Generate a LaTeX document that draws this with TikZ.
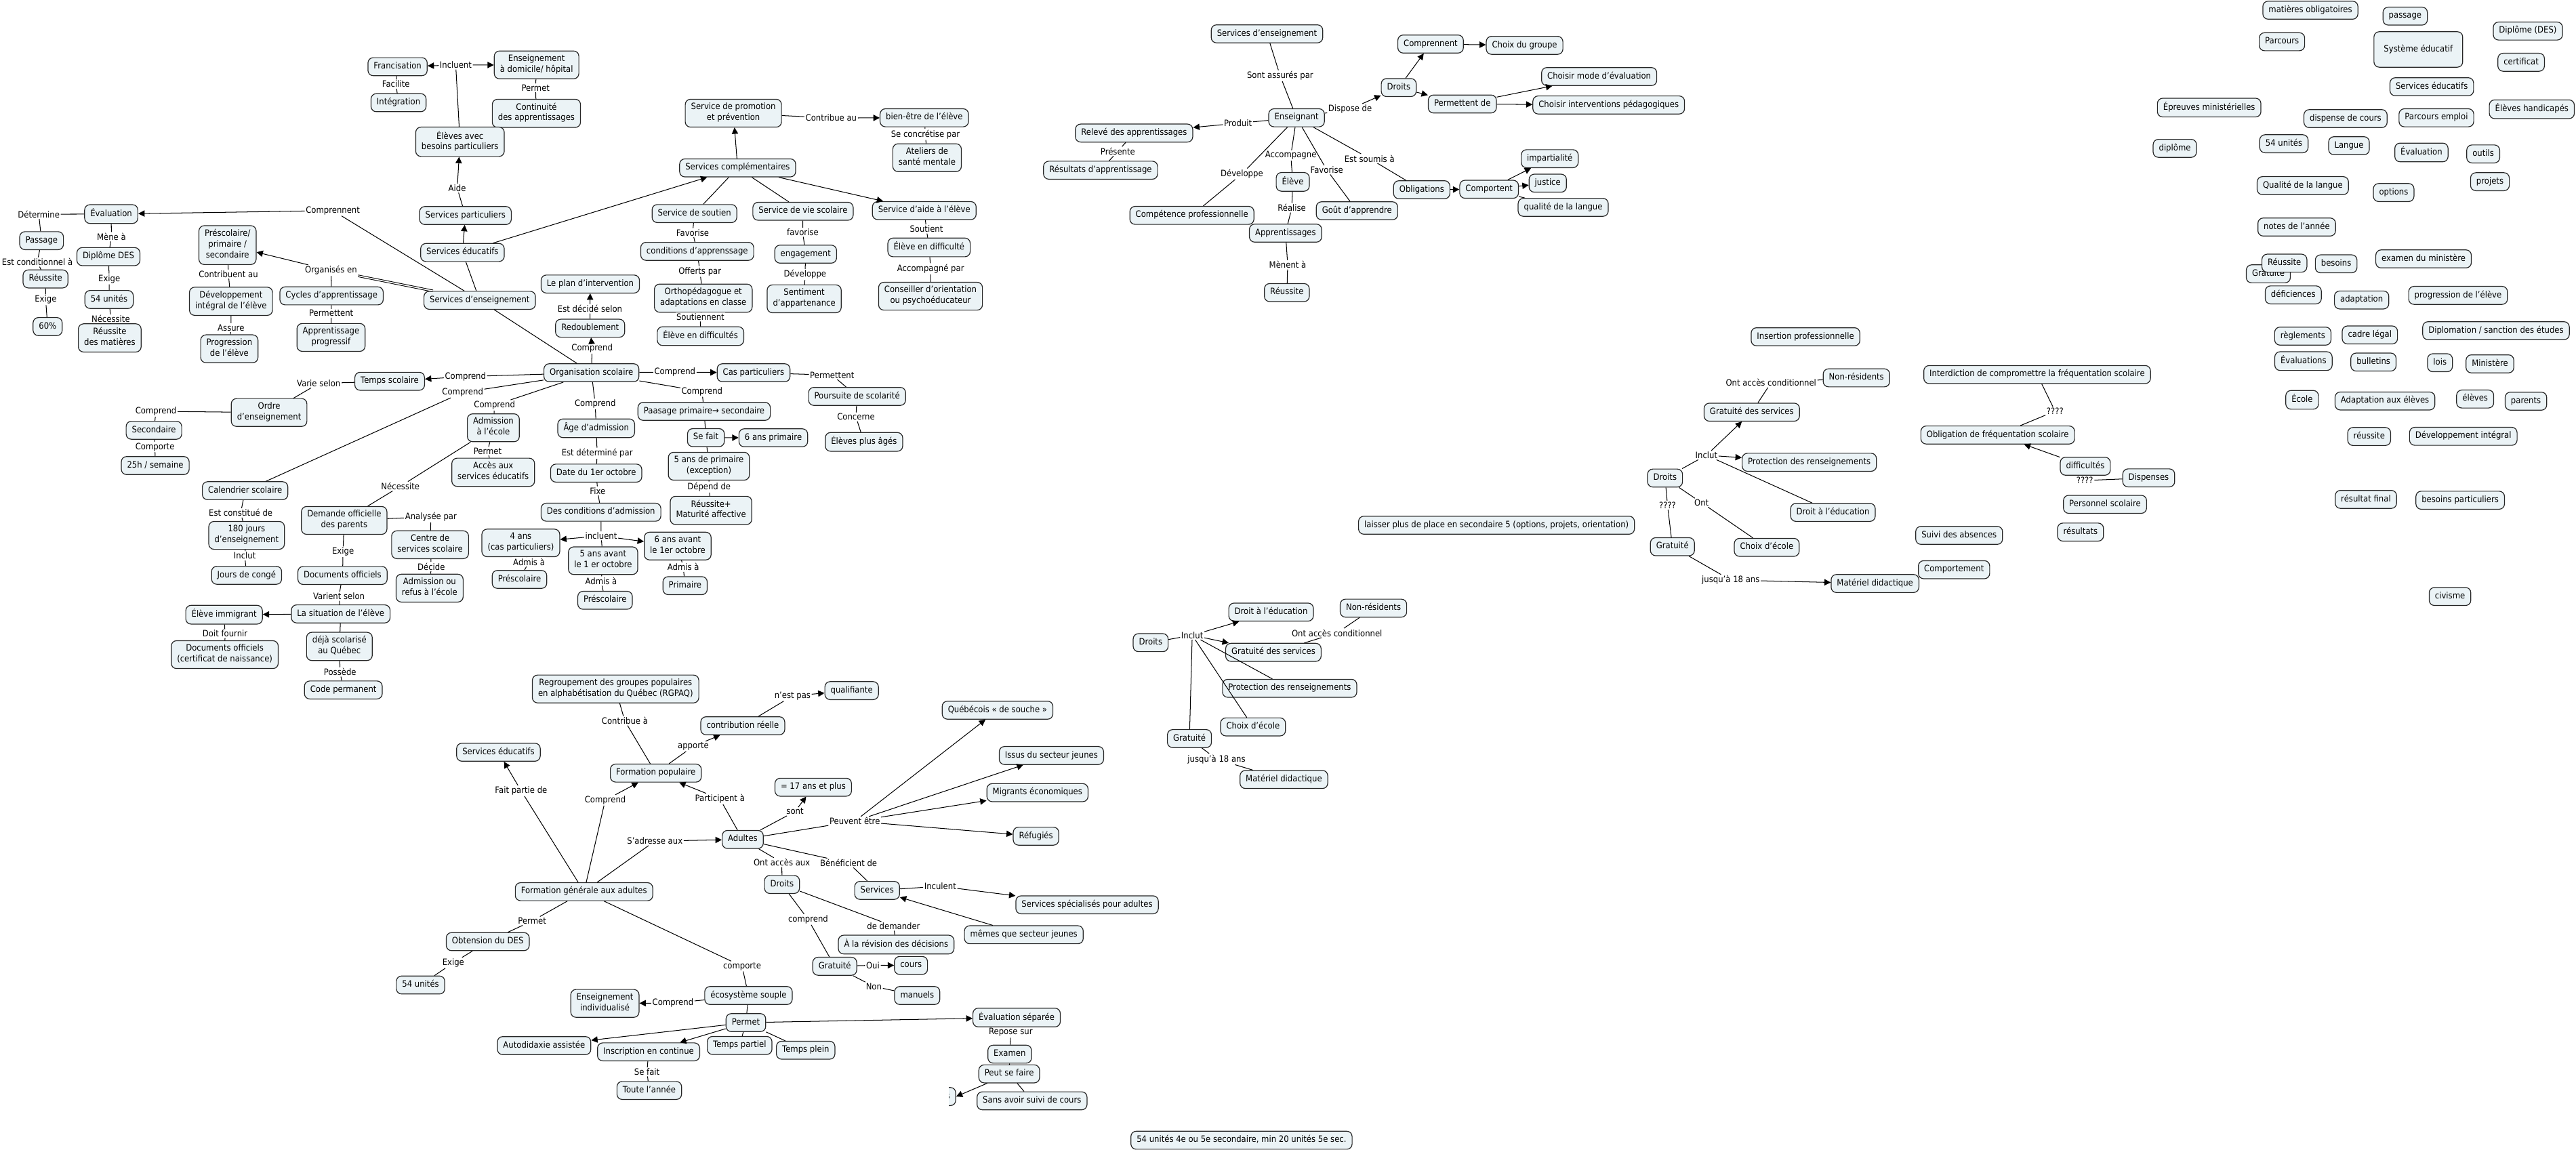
\documentclass[tikz,border=0pt]{standalone}
\usepackage{fontspec}
\setmainfont{DejaVu Sans}[FakeStretch=0.9]
\usetikzlibrary{arrows.meta}
\definecolor{fondcarte}{RGB}{235,243,246}

\begin{document}
\begin{tikzpicture}[x=0.5mm, y=-0.5mm, >={Triangle[length=5.5pt,width=5.5pt]},
    concept/.style={draw=black!85, line width=0.7pt, fill=fondcarte, rounded corners=1.6mm,
        align=center, inner xsep=5pt, inner ysep=3.2pt, font=\fontsize{7.6}{9.2}\selectfont,
        execute at begin node=\strut, execute at end node=\strut},
    lien/.style={fill=white, inner sep=0.8pt, font=\fontsize{7.6}{9.2}\selectfont},
    trait/.style={line width=0.6pt},
    fleche/.style={line width=0.6pt, ->}]
    \path[use as bounding box, fill=white] (0,0) rectangle (1568,700);

    % Services éducatifs / besoins particuliers
    \node[concept] (franc) at (242,40.6) {Francisation};
    \node[concept] (ensdom) at (326.6,39.5) {Enseignement\\à domicile/ hôpital};
    \node[lien] (incluent) at (277.4,39.6) {Incluent};
    \node[concept] (integ) at (242.6,62.5) {Intégration};
    \node[lien] (facilite) at (241,51.2) {Facilite};
    \node[lien] (permetA) at (326,53.5) {Permet};
    \node[concept] (contin) at (326.5,69) {Continuité\\des apprentissages};
    \node[concept] (ebp) at (280,86.3) {Élèves avec\\besoins particuliers};
    \node[lien] (aide) at (278.3,114.5) {Aide};
    \node[concept] (spart) at (283.3,131.2) {Services particuliers};
    \node[concept] (sedu) at (281.5,153.7) {Services éducatifs};
    \node[concept] (sens) at (292,182.8) {Services d'enseignement};
    \draw[trait] (ebp) -- (incluent);
    \draw[fleche] (incluent) -- (franc);
    \draw[fleche] (incluent) -- (ensdom);
    \draw[trait] (franc) -- (facilite) -- (integ);
    \draw[trait] (ensdom) -- (permetA) -- (contin);
    \draw[trait] (spart) -- (aide);
    \draw[fleche] (aide) -- (ebp);
    \draw[fleche] (sedu) -- (spart);
    \draw[trait] (sens) -- (sedu);

    % Évaluation
    \node[concept] (eval) at (67.7,130.3) {Évaluation};
    \node[lien] (compnt) at (202.6,128.2) {Comprennent};
    \node[lien] (determ) at (23.6,130.4) {Détermine};
    \node[concept] (passage) at (25.3,146.5) {Passage};
    \node[lien] (mene) at (67.8,144.1) {Mène à};
    \node[concept] (dipdes) at (66,156.2) {Diplôme DES};
    \node[lien] (condit) at (22.7,159.5) {Est conditionnel à};
    \node[concept] (reuss) at (27.7,169.8) {Réussite};
    \node[lien] (exigeA) at (27.8,182.5) {Exige};
    \node[concept] (soixante) at (29,198.8) {60\%};
    \node[lien] (exigeB) at (66.5,169.8) {Exige};
    \node[concept] (unites) at (66.4,182.3) {54 unités};
    \node[lien] (necess) at (67.4,194.2) {Nécessite};
    \node[concept] (reussmat) at (66.8,205.7) {Réussite\\des matières};
    \draw[trait] (sens) -- (compnt);
    \draw[fleche] (compnt) -- (eval);
    \draw[trait] (eval) -- (determ) -- (passage);
    \draw[trait] (passage) -- (condit) -- (reuss);
    \draw[trait] (reuss) -- (exigeA) -- (soixante);
    \draw[trait] (eval) -- (mene) -- (dipdes);
    \draw[trait] (dipdes) -- (exigeB) -- (unites);
    \draw[trait] (unites) -- (necess) -- (reussmat);

    % Cycles
    \node[concept] (presco) at (138.5,149.2) {Préscolaire/\\primaire /\\secondaire};
    \node[lien] (contrib) at (139,166.8) {Contribuent au};
    \node[concept] (devint) at (140.6,183.4) {Développement\\intégral de l'élève};
    \node[lien] (assure) at (140.6,199.4) {Assure};
    \node[concept] (progr) at (139.6,212.3) {Progression\\de l'élève};
    \node[lien] (organ) at (201.5,164.6) {Organisés en};
    \node[concept] (cycles) at (201.8,180.1) {Cycles d'apprentissage};
    \node[lien] (permtt) at (201.6,190.7) {Permettent};
    \node[concept] (apprprog) at (201.5,205.4) {Apprentissage\\progressif};
    \draw[trait, double, double distance=0.9pt] (sens) -- (organ);
    \draw[fleche] (organ) -- (presco);
    \draw[trait] (organ) -- (cycles);
    \draw[trait] (presco) -- (contrib) -- (devint);
    \draw[trait] (devint) -- (assure) -- (progr);
    \draw[trait] (cycles) -- (permtt) -- (apprprog);

    % Organisation scolaire
    \node[concept] (orgsc) at (360,226.9) {Organisation scolaire};
    \node[lien] (compR) at (360.4,212) {Comprend};
    \node[concept] (redoub) at (359.2,199.8) {Redoublement};
    \node[lien] (decide) at (359.1,188) {Est décidé selon};
    \node[concept] (plan) at (359.3,172.9) {Le plan d'intervention};
    \node[lien] (compCas) at (410.8,226.5) {Comprend};
    \node[concept] (caspart) at (458.7,226.9) {Cas particuliers};
    \node[lien] (permCas) at (506.5,228.3) {Permettent};
    \node[concept] (poursuite) at (521.7,241.3) {Poursuite de scolarité};
    \node[lien] (concerne) at (521,253.8) {Concerne};
    \node[concept] (plusages) at (525.9,269) {Élèves plus âgés};
    \node[lien] (compPas) at (427.3,238.3) {Comprend};
    \node[concept] (paasage) at (428.6,250.4) {Paasage primaire→ secondaire};
    \node[lien] (compAge) at (362.3,245.9) {Comprend};
    \node[concept] (age) at (362.9,260.7) {Âge d'admission};
    \node[concept] (sefait) at (429.7,266.4) {Se fait};
    \node[concept] (sixprim) at (470.7,266.5) {6 ans primaire};
    \node[concept] (cinqprim) at (431.5,283.8) {5 ans de primaire\\(exception)};
    \node[lien] (depend) at (431.6,296.5) {Dépend de};
    \node[concept] (maturite) at (432.8,310.7) {Réussite+\\Maturité affective};
    \node[lien] (determPar) at (363.5,275.9) {Est déterminé par};
    \node[concept] (date) at (362.9,288) {Date du 1er octobre};
    \node[lien] (fixe) at (363.8,298.8) {Fixe};
    \node[concept] (condadm) at (365.8,311.8) {Des conditions d'admission};
    \node[lien] (incluentB) at (365.9,326.2) {incluent};
    \node[concept] (quatre) at (317,330.5) {4 ans\\(cas particuliers)};
    \node[lien] (admisA) at (322,342) {Admis à};
    \node[concept] (prescA) at (316.2,352.7) {Préscolaire};
    \node[concept] (cinqav) at (367.1,341.3) {5 ans avant\\le 1 er octobre};
    \node[lien] (admisB) at (365.9,353.7) {Admis à};
    \node[concept] (prescB) at (368.3,365.4) {Préscolaire};
    \node[concept] (sixav) at (412.5,332.4) {6 ans avant\\le 1er octobre};
    \node[lien] (admisC) at (415.9,345.2) {Admis à};
    \node[concept] (primaire) at (417,356.5) {Primaire};
    \draw[trait] (sens) -- (orgsc);
    \draw[trait] (orgsc) -- (compR);
    \draw[fleche] (compR) -- (redoub);
    \draw[trait] (redoub) -- (decide);
    \draw[fleche] (decide) -- (plan);
    \draw[trait] (orgsc) -- (compCas);
    \draw[fleche] (compCas) -- (caspart);
    \draw[trait] (caspart) -- (permCas) -- (poursuite);
    \draw[trait] (poursuite) -- (concerne) -- (plusages);
    \draw[trait] (orgsc) -- (compPas) -- (paasage);
    \draw[trait] (paasage) -- (sefait);
    \draw[fleche] (sefait) -- (sixprim);
    \draw[trait] (sefait) -- (cinqprim);
    \draw[trait] (cinqprim) -- (depend) -- (maturite);
    \draw[trait] (orgsc) -- (compAge) -- (age);
    \draw[trait] (age) -- (determPar) -- (date);
    \draw[trait] (date) -- (fixe) -- (condadm);
    \draw[trait] (condadm) -- (incluentB);
    \draw[fleche] (incluentB) -- (quatre);
    \draw[fleche] (incluentB) -- (sixav);
    \draw[trait] (incluentB) -- (cinqav);
    \draw[trait] (quatre) -- (admisA) -- (prescA);
    \draw[trait] (cinqav) -- (admisB) -- (prescB);
    \draw[trait] (sixav) -- (admisC) -- (primaire);

    % Temps scolaire, calendrier, admission
    \node[lien] (compT) at (283.3,229.2) {Comprend};
    \node[concept] (temps) at (237.2,232.1) {Temps scolaire};
    \node[lien] (compCal) at (281.6,238.9) {Comprend};
    \node[lien] (compAdm) at (301,246.7) {Comprend};
    \node[lien] (varie) at (194,233.4) {Varie selon};
    \node[concept] (ordre) at (163.8,251.1) {Ordre\\d'enseignement};
    \node[lien] (compSec) at (94.9,250.4) {Comprend};
    \node[concept] (second) at (93.7,261.9) {Secondaire};
    \node[lien] (comporte) at (94.3,272.1) {Comporte};
    \node[concept] (vingtcinq) at (94.5,283.4) {25h / semaine};
    \node[concept] (calend) at (149.2,298.7) {Calendrier scolaire};
    \node[lien] (constit) at (146.5,312.2) {Est constitué de};
    \node[concept] (cent) at (150.1,325.9) {180 jours\\d'enseignement};
    \node[lien] (inclut) at (149,338.3) {Inclut};
    \node[concept] (conges) at (150.1,350.2) {Jours de congé};
    \node[concept] (admis) at (300.3,260.4) {Admission\\à l'école};
    \node[lien] (permAdm) at (296.8,274.6) {Permet};
    \node[concept] (acces) at (300.2,287.5) {Accès aux\\services éducatifs};
    \node[lien] (necessB) at (243.7,296) {Nécessite};
    \node[concept] (demande) at (209.5,316.8) {Demande officielle\\des parents};
    \node[lien] (analyse) at (262.3,314.6) {Analysée par};
    \node[concept] (centre) at (261.8,331.6) {Centre de\\services scolaire};
    \node[lien] (decideB) at (262.5,344.9) {Décide};
    \node[concept] (refus) at (261.5,358) {Admission ou\\refus à l'école};
    \node[lien] (exigeC) at (208.8,335.9) {Exige};
    \node[concept] (docs) at (208.5,350.3) {Documents officiels};
    \node[lien] (varient) at (206.3,363) {Varient selon};
    \node[concept] (situation) at (207.4,373.7) {La situation de l'élève};
    \node[concept] (immigr) at (136.4,374.2) {Élève immigrant};
    \node[lien] (fournir) at (137,385.7) {Doit fournir};
    \node[concept] (docsnais) at (136.8,398.5) {Documents officiels\\(certificat de naissance)};
    \node[concept] (deja) at (206.6,393.5) {déjà scolarisé\\au Québec};
    \node[lien] (possede) at (207,409) {Possède};
    \node[concept] (codep) at (209,420) {Code permanent};
    \draw[trait] (orgsc) -- (compT);
    \draw[fleche] (compT) -- (temps);
    \draw[trait] (orgsc) -- (compCal) -- (calend);
    \draw[trait] (orgsc) -- (compAdm) -- (admis);
    \draw[trait] (temps) -- (varie) -- (ordre);
    \draw[trait] (ordre) -- (compSec) -- (second);
    \draw[trait] (second) -- (comporte) -- (vingtcinq);
    \draw[trait] (calend) -- (constit) -- (cent);
    \draw[trait] (cent) -- (inclut) -- (conges);
    \draw[trait] (admis) -- (permAdm) -- (acces);
    \draw[trait] (admis) -- (necessB) -- (demande);
    \draw[trait] (demande) -- (analyse) -- (centre);
    \draw[trait] (centre) -- (decideB) -- (refus);
    \draw[trait] (demande) -- (exigeC) -- (docs);
    \draw[trait] (docs) -- (varient) -- (situation);
    \draw[fleche] (situation) -- (immigr);
    \draw[trait] (situation) -- (deja);
    \draw[trait] (immigr) -- (fournir) -- (docsnais);
    \draw[trait] (deja) -- (possede) -- (codep);

    % Services complémentaires
    \node[concept] (promo) at (446.4,68.9) {Service de promotion\\et prévention};
    \node[lien] (contribue) at (505.9,71.8) {Contribue au};
    \node[concept] (bienetre) at (562.6,71.7) {bien-être de l'élève};
    \node[lien] (concret) at (563.3,81.8) {Se concrétise par};
    \node[concept] (ateliers) at (564.3,96) {Ateliers de\\santé mentale};
    \node[concept] (scompl) at (449,102.2) {Services complémentaires};
    \node[concept] (soutien) at (422.7,130) {Service de soutien};
    \node[concept] (viesc) at (488.8,128.6) {Service de vie scolaire};
    \node[concept] (aideel) at (562.6,128.2) {Service d'aide à l'élève};
    \node[lien] (favA) at (421.6,141.6) {Favorise};
    \node[concept] (condapp) at (424.4,153) {conditions d'apprenssage};
    \node[lien] (offerts) at (426,165.3) {Offerts par};
    \node[concept] (ortho) at (428.1,181.5) {Orthopédagogue et\\adaptations en classe};
    \node[lien] (soutiennent) at (426.3,192.9) {Soutiennent};
    \node[concept] (endiffs) at (426.4,204.6) {Élève en difficultés};
    \node[lien] (favB) at (488.6,141.4) {favorise};
    \node[concept] (engag) at (490.4,154.7) {engagement};
    \node[lien] (develB) at (490,167.1) {Développe};
    \node[concept] (sentim) at (489.5,181.9) {Sentiment\\d'appartenance};
    \node[lien] (soutient) at (563.9,139.4) {Soutient};
    \node[concept] (endiff) at (565.5,150.6) {Élève en difficulté};
    \node[lien] (accomp) at (566.5,163.6) {Accompagné par};
    \node[concept] (conseil) at (566.4,180.3) {Conseiller d'orientation\\ou psychoéducateur};
    \draw[fleche] (sedu) -- (scompl);
    \draw[fleche] (scompl) -- (promo);
    \draw[trait] (promo) -- (contribue);
    \draw[fleche] (contribue) -- (bienetre);
    \draw[trait] (bienetre) -- (concret) -- (ateliers);
    \draw[trait] (scompl) -- (soutien);
    \draw[trait] (scompl) -- (viesc);
    \draw[fleche] (scompl) -- (aideel);
    \draw[trait] (soutien) -- (favA) -- (condapp);
    \draw[trait] (condapp) -- (offerts) -- (ortho);
    \draw[trait] (ortho) -- (soutiennent) -- (endiffs);
    \draw[trait] (viesc) -- (favB) -- (engag);
    \draw[trait] (engag) -- (develB) -- (sentim);
    \draw[trait] (aideel) -- (soutient) -- (endiff);
    \draw[trait] (endiff) -- (accomp) -- (conseil);

    % Formation générale aux adultes
    \node[concept] (rgpaq) at (374.7,419.4) {Regroupement des groupes populaires\\en alphabétisation du Québec (RGPAQ)};
    \node[lien] (contribA) at (380.3,438.8) {Contribue à};
    \node[concept] (qualif) at (518.4,420.4) {qualifiante};
    \node[lien] (nestpas) at (482.4,423.6) {n'est pas};
    \node[concept] (contrel) at (452.1,441.8) {contribution réelle};
    \node[lien] (apporte) at (422,454.3) {apporte};
    \node[concept] (sedub) at (303.4,457.9) {Services éducatifs};
    \node[concept] (formpop) at (399.2,470.6) {Formation populaire};
    \node[lien] (faitpartie) at (317.2,481.4) {Fait partie de};
    \node[lien] (compFp) at (368.4,487.1) {Comprend};
    \node[lien] (particip) at (438.2,486.3) {Participent à};
    \node[concept] (dixsept) at (495,479.2) {= 17 ans et plus};
    \node[lien] (sont) at (483.9,494) {sont};
    \node[concept] (adultes) at (452.1,511) {Adultes};
    \node[lien] (sadresse) at (398.6,512) {S'adresse aux};
    \node[lien] (peuvent) at (520.3,499.9) {Peuvent être};
    \node[lien] (ontacces) at (475.9,525) {Ont accès aux};
    \node[lien] (benef) at (516.5,525.3) {Bénéficient de};
    \node[concept] (droitsC) at (476,538.4) {Droits};
    \node[concept] (servC) at (533.9,542) {Services};
    \node[lien] (inculent) at (572.3,539.5) {Inculent};
    \node[concept] (fga) at (355.5,542.8) {Formation générale aux adultes};
    \node[lien] (permFga) at (323.9,560.6) {Permet};
    \node[lien] (comprendDr) at (491.9,559.7) {comprend};
    \node[lien] (demander) at (543.9,563.8) {de demander};
    \node[concept] (obtension) at (296.9,573.2) {Obtension du DES};
    \node[lien] (exigeD) at (275.9,586.1) {Exige};
    \node[concept] (unitesB) at (256,599.6) {54 unités};
    \node[lien] (comporteB) at (451.7,588.2) {comporte};
    \node[concept] (ecosys) at (455.6,606) {écosystème souple};
    \node[lien] (compEco) at (409.6,610.6) {Comprend};
    \node[concept] (ensind) at (368.2,610.8) {Enseignement\\individualisé};
    \node[concept] (permetbox) at (454,622.5) {Permet};
    \node[concept] (autodid) at (331.2,636.5) {Autodidaxie assistée};
    \node[concept] (inscr) at (394.8,640.3) {Inscription en continue};
    \node[concept] (tpartiel) at (450.2,636.4) {Temps partiel};
    \node[concept] (tplein) at (490.4,639.3) {Temps plein};
    \node[lien] (sefaitB) at (393.8,652.5) {Se fait};
    \node[concept] (toute) at (395.2,663.8) {Toute l'année};
    \node[concept] (gratC) at (508.1,588.2) {Gratuité};
    \node[lien] (oui) at (531.3,587.6) {Oui};
    \node[concept] (cours) at (554.5,587.7) {cours};
    \node[lien] (non) at (531.9,600.5) {Non};
    \node[concept] (manuels) at (558.3,606) {manuels};
    \node[concept] (revision) at (545.5,575) {À la révision des décisions};
    \node[concept] (quebec) at (607.2,432.3) {Québécois « de souche »};
    \node[concept] (issus) at (640,459.9) {Issus du secteur jeunes};
    \node[concept] (migrants) at (631.5,482.5) {Migrants économiques};
    \node[concept] (refug) at (630.6,509) {Réfugiés};
    \node[concept] (servspec) at (661.7,550.8) {Services spécialisés pour adultes};
    \node[concept] (memes) at (623.2,569) {mêmes que secteur jeunes};
    \node[concept] (evalsep) at (618.8,619.4) {Évaluation séparée};
    \node[lien] (repose) at (615.2,628.5) {Repose sur};
    \node[concept] (examen) at (614.6,641.7) {Examen};
    \node[concept] (peutsefaire) at (614.3,653.7) {Peut se faire};
    \begin{scope}
        \clip (577.6,650) rectangle (590,680);
        \node[concept, anchor=east] (partiel) at (582,667.5) {s};
    \end{scope}
    \node[concept] (sanscours) at (628.2,670.1) {Sans avoir suivi de cours};
    \node[concept] (note) at (755.7,694.1) {54 unités 4e ou 5e secondaire, min 20 unités 5e sec.};
    \draw[trait] (rgpaq) -- (contribA) -- (formpop);
    \draw[trait] (formpop) -- (apporte);
    \draw[fleche] (apporte) -- (contrel);
    \draw[trait] (contrel) -- (nestpas);
    \draw[fleche] (nestpas) -- (qualif);
    \draw[trait] (fga) -- (faitpartie);
    \draw[fleche] (faitpartie) -- (sedub);
    \draw[trait] (fga) -- (compFp);
    \draw[fleche] (compFp) -- (formpop);
    \draw[trait] (adultes) -- (particip);
    \draw[fleche] (particip) -- (formpop);
    \draw[trait] (fga) -- (sadresse);
    \draw[fleche] (sadresse) -- (adultes);
    \draw[trait] (adultes) -- (sont);
    \draw[fleche] (sont) -- (dixsept);
    \draw[trait] (adultes) -- (peuvent);
    \draw[fleche] (peuvent) -- (quebec);
    \draw[fleche] (peuvent) -- (issus);
    \draw[fleche] (peuvent) -- (migrants);
    \draw[fleche] (peuvent) -- (refug);
    \draw[trait] (adultes) -- (ontacces) -- (droitsC);
    \draw[trait] (adultes) -- (benef) -- (servC);
    \draw[trait] (servC) -- (inculent);
    \draw[fleche] (inculent) -- (servspec);
    \draw[fleche] (memes) -- (servC);
    \draw[trait] (droitsC) -- (comprendDr) -- (gratC);
    \draw[trait] (droitsC) -- (demander) -- (revision);
    \draw[trait] (gratC) -- (oui);
    \draw[fleche] (oui) -- (cours);
    \draw[trait] (gratC) -- (non) -- (manuels);
    \draw[trait] (fga) -- (permFga) -- (obtension);
    \draw[trait] (obtension) -- (exigeD) -- (unitesB);
    \draw[trait] (fga) -- (comporteB) -- (ecosys);
    \draw[trait] (ecosys) -- (compEco);
    \draw[fleche] (compEco) -- (ensind);
    \draw[trait] (ecosys) -- (permetbox);
    \draw[fleche] (permetbox) -- (autodid);
    \draw[fleche] (permetbox) -- (inscr);
    \draw[trait] (permetbox) -- (tpartiel);
    \draw[trait] (permetbox) -- (tplein);
    \draw[fleche] (permetbox) -- (evalsep);
    \draw[trait] (inscr) -- (sefaitB) -- (toute);
    \draw[trait] (evalsep) -- (repose) -- (examen);
    \draw[trait] (examen) -- (peutsefaire);
    \draw[fleche] (peutsefaire) -- (partiel.east);
    \draw[trait] (peutsefaire) -- (sanscours);

    % Droits (bas)
    \node[concept] (droitsD) at (700.4,391.2) {Droits};
    \node[lien] (inclutD) at (725.7,386.7) {Inclut};
    \node[concept] (droitedD) at (773.7,372.6) {Droit à l'éducation};
    \node[concept] (gratservD) at (775.1,397.1) {Gratuité des services};
    \node[concept] (nonresD) at (836,370.2) {Non-résidents};
    \node[lien] (ontcondD) at (813.8,385.3) {Ont accès conditionnel};
    \node[concept] (protD) at (785,419) {Protection des renseignements};
    \node[concept] (choixD) at (762.7,442.5) {Choix d'école};
    \node[concept] (gratD) at (724,449.6) {Gratuité};
    \node[lien] (jusqD) at (740.5,462.1) {jusqu'à 18 ans};
    \node[concept] (materD) at (781.5,474.5) {Matériel didactique};
    \draw[trait] (droitsD) -- (inclutD);
    \draw[fleche] (inclutD) -- (droitedD);
    \draw[fleche] (inclutD) -- (gratservD);
    \draw[trait] (inclutD) -- (protD);
    \draw[trait] (inclutD) -- (choixD);
    \draw[trait] (inclutD) -- (gratD);
    \draw[trait] (gratD) -- (jusqD) -- (materD);
    \draw[trait] (nonresD) -- (ontcondD) -- (gratservD);

    % Droits (haut) et fréquentation scolaire
    \node[concept] (gratservE) at (1066.3,250.9) {Gratuité des services};
    \node[lien] (inclutE) at (1038.7,277.1) {Inclut};
    \node[concept] (protE) at (1101.3,281.4) {Protection des renseignements};
    \node[concept] (droitsE) at (1013.5,291) {Droits};
    \node[concept] (droitedE) at (1115.7,311.9) {Droit à l'éducation};
    \node[lien] (qqE) at (1015,307.6) {????};
    \node[lien] (ontE) at (1035.7,306) {Ont};
    \node[concept] (choixE) at (1075.4,333.2) {Choix d'école};
    \node[concept] (gratE) at (1018,332.8) {Gratuité};
    \node[lien] (jusqE) at (1053.5,353.1) {jusqu'à 18 ans};
    \node[concept] (comportement) at (1189.4,346.8) {Comportement};
    \node[concept] (materE) at (1141.3,355.2) {Matériel didactique};
    \node[concept] (laisser) at (910.9,319.7) {laisser plus de place en secondaire 5 (options, projets, orientation)};
    \node[concept] (nonresE) at (1130,230) {Non-résidents};
    \node[lien] (ontcondE) at (1078,233) {Ont accès conditionnel};
    \node[concept] (interdiction) at (1240,228) {Interdiction de compromettre la fréquentation scolaire};
    \node[lien] (qqF) at (1250.9,250.3) {????};
    \node[concept] (oblig) at (1216,264.8) {Obligation de fréquentation scolaire};
    \node[concept] (difficultes) at (1269.3,283.8) {difficultés};
    \node[concept] (dispenses) at (1307.9,290.9) {Dispenses};
    \node[lien] (qqG) at (1269,292.5) {????};
    \node[concept] (personnel) at (1281.3,307) {Personnel scolaire};
    \node[concept] (resultats) at (1266.4,323.9) {résultats};
    \node[concept] (suivi) at (1192.5,325.9) {Suivi des absences};
    \node[concept] (insertion) at (1099,205) {Insertion professionnelle};
    \draw[trait] (droitsE) -- (inclutE);
    \draw[fleche] (inclutE) -- (gratservE);
    \draw[fleche] (inclutE) -- (protE);
    \draw[trait] (inclutE) -- (droitedE);
    \draw[trait] (droitsE) -- (qqE) -- (gratE);
    \draw[trait] (droitsE) -- (ontE) -- (choixE);
    \draw[trait] (gratE) -- (jusqE);
    \draw[fleche] (jusqE) -- (materE);
    \draw[trait] (gratservE) -- (ontcondE) -- (nonresE);
    \draw[trait] (interdiction) -- (qqF) -- (oblig);
    \draw[fleche] (difficultes) -- (oblig);
    \draw[trait] (dispenses) -- (qqG);

    % Enseignant
    \node[concept] (sensF) at (771.2,20.6) {Services d'enseignement};
    \node[lien] (assures) at (779.2,46.1) {Sont assurés par};
    \node[concept] (enseignant) at (789.2,71.7) {Enseignant};
    \node[lien] (produit) at (753.5,75) {Produit};
    \node[concept] (releve) at (690.3,81) {Relevé des apprentissages};
    \node[lien] (presente) at (680.4,92.1) {Présente};
    \node[concept] (resultatsF) at (669.9,103.6) {Résultats d'apprentissage};
    \node[lien] (dispose) at (821.8,66.4) {Dispose de};
    \node[concept] (droitsF) at (851.4,53.3) {Droits};
    \node[concept] (comprennentF) at (870.8,26.8) {Comprennent};
    \node[concept] (choixgr) at (928,27.6) {Choix du groupe};
    \node[concept] (permde) at (890.1,63.3) {Permettent de};
    \node[concept] (choismode) at (973.4,46.6) {Choisir mode d'évaluation};
    \node[concept] (choisinterv) at (979.2,63.9) {Choisir interventions pédagogiques};
    \node[lien] (accompagne) at (785.7,94.6) {Accompagne};
    \node[concept] (eleveF) at (786.9,110.7) {Élève};
    \node[lien] (realise) at (786.3,126.5) {Réalise};
    \node[concept] (competence) at (725.5,131.1) {Compétence professionnelle};
    \node[concept] (apprF) at (782.5,141.9) {Apprentissages};
    \node[lien] (menent) at (783.8,161.2) {Mènent à};
    \node[concept] (reussF) at (783.3,178.1) {Réussite};
    \node[lien] (developpeF) at (755.9,105.9) {Développe};
    \node[lien] (favoriseF) at (807.6,103.4) {Favorise};
    \node[concept] (gout) at (826,128.3) {Goût d'apprendre};
    \node[lien] (soumis) at (833.6,96.5) {Est soumis à};
    \node[concept] (obligations) at (865.4,115.5) {Obligations};
    \node[concept] (comportent) at (906.4,115.2) {Comportent};
    \node[concept] (impart) at (943.3,96.6) {impartialité};
    \node[concept] (justice) at (942.1,111.5) {justice};
    \node[concept] (qualite) at (951.5,126.2) {qualité de la langue};
    \draw[trait] (sensF) -- (assures) -- (enseignant);
    \draw[trait] (enseignant) -- (produit);
    \draw[fleche] (produit) -- (releve);
    \draw[trait] (releve) -- (presente) -- (resultatsF);
    \draw[trait] (enseignant) -- (dispose);
    \draw[fleche] (dispose) -- (droitsF);
    \draw[fleche] (droitsF) -- (comprennentF);
    \draw[fleche] (comprennentF) -- (choixgr);
    \draw[fleche] (droitsF) -- (permde);
    \draw[fleche] (permde) -- (choismode);
    \draw[fleche] (permde) -- (choisinterv);
    \draw[trait] (enseignant) -- (accompagne) -- (eleveF);
    \draw[trait] (eleveF) -- (realise) -- (apprF);
    \draw[trait] (apprF) -- (menent) -- (reussF);
    \draw[trait] (enseignant) -- (developpeF) -- (competence);
    \draw[trait] (enseignant) -- (favoriseF) -- (gout);
    \draw[trait] (enseignant) -- (soumis) -- (obligations);
    \draw[fleche] (obligations) -- (comportent);
    \draw[fleche] (comportent) -- (impart);
    \draw[fleche] (comportent) -- (justice);
    \draw[trait] (comportent) -- (qualite);

    % Concepts isolés
    \node[concept] (matieres) at (1406.3,6.2) {matières obligatoires};
    \node[concept] (passageG) at (1464,9.8) {passage};
    \node[concept] (diplomeDES) at (1538.7,18.9) {Diplôme (DES)};
    \node[concept] (parcours) at (1389,25.4) {Parcours};
    \node[concept, minimum width=27mm, minimum height=10.8mm] (systeme) at (1472,30.1) {Système éducatif};
    \node[concept] (certificat) at (1534.6,37.9) {certificat};
    \node[concept] (seduG) at (1480.2,52.8) {Services éducatifs};
    \node[concept] (epreuves) at (1344.7,65.5) {Épreuves ministérielles};
    \node[concept] (dispense) at (1427.7,72.2) {dispense de cours};
    \node[concept] (parcemploi) at (1483,71.7) {Parcours emploi};
    \node[concept] (handicap) at (1541.1,66.5) {Élèves handicapés};
    \node[concept] (diplome) at (1323.8,90.3) {diplôme};
    \node[concept] (unitesG) at (1390.2,87.5) {54 unités};
    \node[concept] (langue) at (1429.8,88.7) {Langue};
    \node[concept] (evalG) at (1473.9,92.8) {Évaluation};
    \node[concept] (outils) at (1511.5,93.7) {outils};
    \node[concept] (projets) at (1515.6,110.6) {projets};
    \node[concept] (qualiteG) at (1401.7,113) {Qualité de la langue};
    \node[concept] (options) at (1457,117.2) {options};
    \node[concept] (notes) at (1398,138.2) {notes de l’année};
    \node[concept] (gratG) at (1380.7,166.7) {Gratuité};
    \node[concept] (reussG) at (1390.5,160.2) {Réussite};
    \node[concept] (besoins) at (1422,160.6) {besoins};
    \node[concept] (examenmin) at (1475.2,157.6) {examen du ministère};
    \node[concept] (deficiences) at (1395.9,179.5) {déficiences};
    \node[concept] (adaptation) at (1437.5,182.6) {adaptation};
    \node[concept] (progG) at (1496.2,179.8) {progression de l’élève};
    \node[concept] (reglements) at (1401.7,204.6) {règlements};
    \node[concept] (cadre) at (1442.5,203.9) {cadre légal};
    \node[concept] (diplomation) at (1519.3,201.3) {Diplomation / sanction des études};
    \node[concept] (evaluations) at (1402.1,219.8) {Évaluations};
    \node[concept] (bulletins) at (1444.7,220.4) {bulletins};
    \node[concept] (lois) at (1485.2,220.8) {lois};
    \node[concept] (ministere) at (1515.6,221.5) {Ministère};
    \node[concept] (ecole) at (1401.3,243.4) {École};
    \node[concept] (adapteleves) at (1451.7,244.1) {Adaptation aux élèves};
    \node[concept] (eleves) at (1506.6,242.9) {élèves};
    \node[concept] (parents) at (1537.5,244.2) {parents};
    \node[concept] (reussiteG) at (1442.1,265.7) {réussite};
    \node[concept] (devintG) at (1499.4,265.6) {Développement intégral};
    \node[concept] (resfinal) at (1440.1,304) {résultat final};
    \node[concept] (besoinspart) at (1497.5,304.5) {besoins particuliers};
    \node[concept] (civisme) at (1491.3,363.1) {civisme};
\end{tikzpicture}
\end{document}
